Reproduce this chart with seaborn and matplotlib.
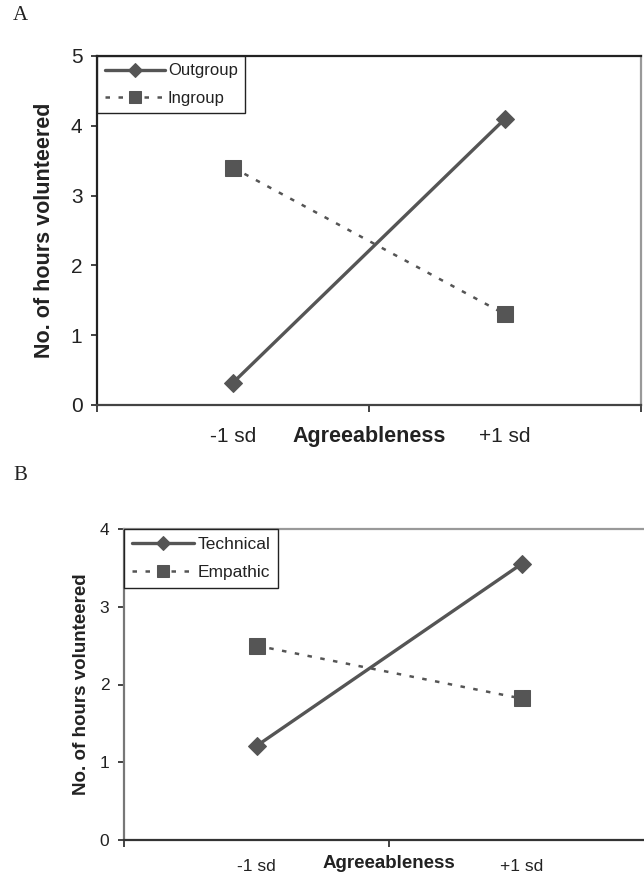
import numpy as np
import matplotlib
matplotlib.use("Agg")
import matplotlib.pyplot as plt
from matplotlib.ticker import FixedLocator
import seaborn as sns

# data
categories = ["-1 sd", "+1 sd"]
outgroup = [0.32, 4.1]
ingroup = [3.4, 1.3]
technical = [1.21, 3.55]
empathic = [2.5, 1.82]

x_label = "Agreeableness"
y_label = "No. of hours volunteered"

sns.set_theme(style="ticks")
plt.rcParams["font.family"] = ["Liberation Sans", "DejaVu Sans"]

LINE = "#555555"


def draw_panel(ax, solid, dotted, names, ymax, fs_tick, fs_lab, fs_leg,
               spine_cols, ylab_x, lab_y, ypad):
    xpos = np.arange(len(categories))
    sns.lineplot(x=xpos, y=solid, ax=ax, color=LINE, lw=2.4, marker="D",
                 markersize=9, markeredgecolor=LINE, label=names[0])
    sns.lineplot(x=xpos, y=dotted, ax=ax, color=LINE, lw=1.8,
                 linestyle=(0, (1.8, 3.4)), marker="s", markersize=11,
                 markeredgecolor=LINE, label=names[1])

    ax.set_xlim(-0.5, len(categories) - 0.5)
    ax.set_ylim(0, ymax)
    ax.set_yticks(range(ymax + 1))
    ax.set_xticks(xpos)
    ax.set_xticklabels(categories)
    ax.xaxis.set_minor_locator(FixedLocator(np.arange(len(categories) + 1) - 0.5))
    ax.tick_params(axis="x", which="major", length=0, pad=ypad,
                   labelsize=fs_tick, colors="#222222")
    ax.tick_params(axis="x", which="minor", length=5, width=1.2,
                   direction="out", color="#222222")
    ax.tick_params(axis="y", length=4.5, width=1.2, direction="out",
                   labelsize=fs_tick, colors="#222222", pad=6)

    for side, col in spine_cols.items():
        ax.spines[side].set_visible(True)
        ax.spines[side].set_color(col)
        ax.spines[side].set_linewidth(1.6)

    ax.set_xlabel(x_label, fontsize=fs_lab, fontweight="bold", color="#222222")
    ax.xaxis.label.set_va("center")
    ax.xaxis.set_label_coords(0.5, lab_y)
    ax.set_ylabel(y_label, fontsize=fs_lab, fontweight="bold", color="#222222")
    ax.yaxis.set_label_coords(ylab_x, 0.5)

    leg = ax.legend(loc="upper left", bbox_to_anchor=(0, 1), borderaxespad=0,
                    fontsize=fs_leg, handlelength=3.6, handletextpad=0.2,
                    labelspacing=0.75, borderpad=0.45, markerscale=0.8,
                    fancybox=False, framealpha=1, edgecolor="#222222")
    leg.get_frame().set_linewidth(1.0)
    for t in leg.get_texts():
        t.set_color("#222222")


fig = plt.figure(figsize=(6.44, 8.76), dpi=100)

ax_a = fig.add_axes([97 / 644, 1 - 405 / 876, 544 / 644, 349 / 876])
draw_panel(ax_a, outgroup, ingroup, ["Outgroup", "Ingroup"], 5,
           fs_tick=15, fs_lab=15.5, fs_leg=12,
           spine_cols={"left": "#222222", "top": "#222222",
                       "bottom": "#444444", "right": "#999999"},
           ylab_x=-0.077, lab_y=-0.089, ypad=16)

ax_b = fig.add_axes([124 / 644, 1 - 840 / 876, 530 / 644, 311 / 876])
draw_panel(ax_b, technical, empathic, ["Technical", "Empathic"], 4,
           fs_tick=12.5, fs_lab=13.5, fs_leg=12.5,
           spine_cols={"left": "#777777", "top": "#999999",
                       "bottom": "#333333", "right": "#999999"},
           ylab_x=-0.064, lab_y=-0.077, ypad=14)

fig.text(13 / 644, 1 - 16 / 876, "A", family=["Liberation Serif", "DejaVu Serif"],
         fontsize=15, va="center", ha="left", color="#222222")
fig.text(13 / 644, 1 - 475 / 876, "B", family=["Liberation Serif", "DejaVu Serif"],
         fontsize=15, va="center", ha="left", color="#222222")

fig.savefig("out.png", dpi=100)
